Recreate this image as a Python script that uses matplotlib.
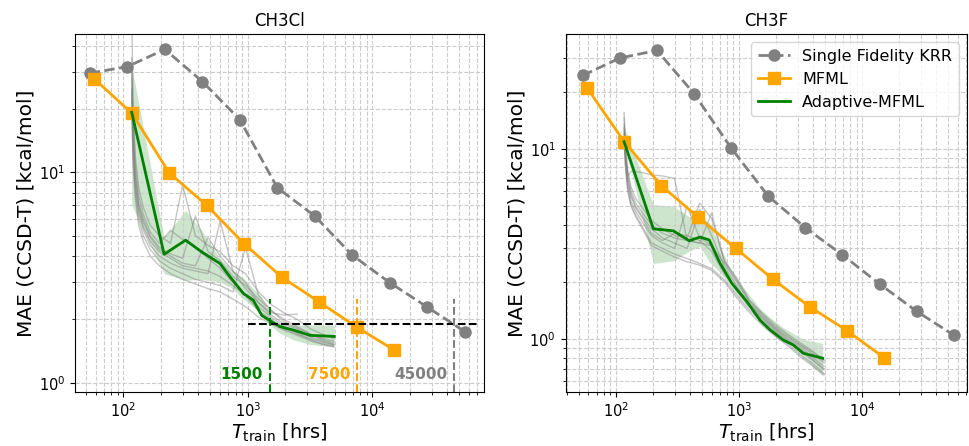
import matplotlib
matplotlib.use("Agg")
import matplotlib.pyplot as plt
import numpy as np

# training times [hrs]
t_sf = [54, 108, 216, 432, 864, 1728, 3456, 6912, 13824, 27648, 55296]
t_mfml = [58.6, 117.2, 234.4, 468.75, 937.5, 1875, 3750, 7500, 15000]

# --- CH3Cl ---
cl_sf = [29.6, 31.8, 38.4, 27.0, 17.8, 8.45, 6.2, 4.04, 2.99, 2.29, 1.75]
cl_mfml = [27.8, 19.1, 9.93, 6.97, 4.57, 3.18, 2.42, 1.84, 1.43]
cl_t_ad = [117, 213, 317, 426, 598, 720, 921, 1107, 1294, 1556, 1815, 2319, 3162, 4955]
cl_ad = [19.3, 4.08, 4.76, 4.19, 3.69, 3.19, 2.66, 2.47, 2.09, 1.95, 1.85, 1.78, 1.68, 1.66]
cl_ad_hi = [32, 4.9, 6.6, 5.3, 3.9, 3.5, 3.15, 2.8, 2.56, 2.0, 1.9, 1.88, 1.88, 1.88]
cl_ad_lo = [7, 3.3, 3.07, 3.1, 3.0, 2.86, 2.5, 2.3, 2.1, 1.85, 1.72, 1.6, 1.52, 1.48]

# individual adaptive runs (grey)
t_runs = [117, 120, 125, 133, 145, 165, 195, 240, 300, 380, 480, 600, 760, 960,
          1220, 1550, 1950, 2500, 3200, 4000, 4900]
cl_runs = [
    [60, 22, 12, 8.5, 6.8, 5.6, 5.0, 4.6, 8.7, 5.0, 4.5, 4.2, 3.6, 3.3, 2.7, 2.35, 2.15, 2.0, 1.8, 1.7, 1.62],
    [30, 16, 10, 7.2, 6.0, 5.0, 4.4, 4.1, 3.9, 6.2, 4.2, 3.8, 3.2, 2.9, 2.5, 2.2, 2.0, 1.85, 1.7, 1.62, 1.58],
    [25, 13, 8.5, 6.5, 5.3, 4.5, 4.0, 3.7, 3.5, 3.4, 3.3, 5.9, 3.4, 3.0, 2.4, 2.1, 1.9, 1.8, 1.65, 1.58, 1.52],
    [22, 12, 8.0, 6.0, 5.0, 4.3, 3.8, 3.5, 3.3, 3.1, 3.0, 2.9, 2.7, 4.4, 2.6, 2.2, 1.95, 1.82, 1.7, 1.6, 1.55],
    [35, 18, 11, 7.8, 6.3, 5.2, 4.6, 5.3, 4.8, 4.4, 3.9, 3.5, 3.0, 2.6, 2.3, 2.05, 1.85, 1.72, 1.6, 1.53, 1.5],
    [20, 11, 7.5, 5.6, 4.7, 4.0, 3.6, 3.3, 3.1, 2.95, 2.8, 2.7, 2.5, 2.3, 2.05, 1.9, 1.78, 1.68, 1.58, 1.52, 1.48],
    [28, 15, 9.5, 7.0, 5.8, 4.9, 4.3, 4.0, 3.7, 3.6, 4.9, 4.0, 3.4, 2.8, 2.4, 2.15, 2.1, 2.12, np.nan, np.nan, np.nan],
    [24, 14, 9.0, 6.8, 5.5, 4.7, 4.2, 3.9, 3.6, 3.5, 3.4, 3.2, 2.9, 2.6, 2.2, 2.0, 1.8, 1.7, 1.62, 1.56, 1.52],
]

# --- CH3F ---
f_sf = [24.3, 30.0, 32.9, 19.5, 10.1, 5.64, 3.85, 2.77, 1.95, 1.40, 1.05]
f_mfml = [20.9, 10.9, 6.41, 4.36, 3.01, 2.07, 1.48, 1.11, 0.80]
f_t_ad = [117, 202, 293, 395, 483, 574, 701, 873, 1154, 1479, 1783, 2287, 2755, 3319, 4775]
f_ad = [10.9, 3.80, 3.71, 3.29, 3.44, 3.32, 2.51, 1.97, 1.58, 1.26, 1.12, 0.99, 0.933, 0.844, 0.794]
f_ad_hi = [13.1, 5.1, 5.0, 4.4, 4.35, 4.1, 3.1, 2.25, 1.78, 1.45, 1.3, 1.15, 1.07, 1.0, 0.95]
f_ad_lo = [10.9, 2.5, 2.58, 2.9, 3.07, 2.55, 2.25, 1.85, 1.5, 1.3, 1.12, 1.02, 0.9, 0.8, 0.64]
f_runs = [
    [15.5, 10.5, 7.8, 6.3, 5.5, 4.9, 4.2, 3.8, 3.5, 3.4, 5.2, 4.3, 2.6, 2.05, 1.58, 1.35, 1.17, 1.04, 0.93, 0.85, 0.77],
    [13.5, 9.5, 7.2, 7.6, 7.6, 7.5, 7.3, 7.2, 7.0, 3.3, 3.2, 3.1, 2.5, 2.0, 1.55, 1.32, 1.15, 1.02, 0.92, 0.83, 0.75],
    [12.5, 9.0, 6.8, 5.6, 5.0, 4.4, 3.8, 3.4, 3.2, 3.0, 4.8, 3.5, 2.4, 1.9, 1.5, 1.28, 1.12, 0.98, 0.88, 0.78, 0.7],
    [11.5, 8.2, 6.2, 5.1, 4.5, 3.9, 3.2, 3.0, 2.8, 2.65, 2.5, 2.35, 2.05, 1.7, 1.42, 1.22, 1.06, 0.94, 0.82, 0.74, 0.66],
    [14.5, 10.0, 7.5, 6.0, 5.2, 4.6, 4.0, 3.6, 3.4, 3.3, 3.2, 4.6, 2.55, 2.1, 1.6, 1.37, 1.2, 1.06, 0.95, 0.86, 0.78],
    [11.0, 8.0, 6.0, 5.0, 4.4, 3.8, 3.1, 2.9, 2.7, 2.55, 2.45, 2.3, 2.0, 1.65, 1.38, 1.18, 1.04, 0.92, 0.8, 0.72, 0.65],
    [12.0, 8.6, 6.5, 5.3, 4.7, 4.1, 3.5, 3.2, 3.0, 5.0, 3.4, 3.1, 2.3, 1.8, 1.48, 1.25, 1.1, 0.97, 0.86, 0.77, 0.69],
    [13.0, 9.2, 7.0, 5.8, 4.9, 4.3, 3.6, 3.3, 3.6, 3.5, 3.3, 2.9, 2.2, 1.85, 1.52, 1.3, 1.14, 1.0, 0.9, 0.8, 0.72],
]

# cost to reach the target MAE (CH3Cl)
target_mae = 1.9
cost_labels = [1500, 7500, 45000]
cost_colors = ["green", "orange", "gray"]

fig = plt.figure(figsize=(9.69, 4.46), dpi=100)
ax1 = fig.add_axes([0.0774, 0.1211, 0.4221, 0.8016])
ax2 = fig.add_axes([0.5838, 0.1211, 0.4138, 0.8016])


def draw(ax, sf, mfml, t_ad, ad, lo, hi, runs):
    for r in runs:
        ax.plot(t_runs, r, color="gray", alpha=0.45, lw=1)
    ax.fill_between(t_ad, lo, hi, color="green", alpha=0.2, lw=0)
    ax.plot(t_sf, sf, "--o", color="gray", lw=2, ms=8, label="Single Fidelity KRR")
    ax.plot(t_mfml, mfml, "-s", color="orange", lw=2, ms=8, label="MFML")
    ax.plot(t_ad, ad, color="green", lw=2, label="Adaptive-MFML")
    ax.set_xscale("log")
    ax.set_yscale("log")
    ax.grid(True, which="both", ls="--", color="#cccccc", lw=0.8)
    ax.set_xlabel(r"$T_{\rm train}$ [hrs]", fontsize=14, labelpad=1)
    ax.set_ylabel("MAE (CCSD-T) [kcal/mol]", fontsize=14.5, labelpad=2)
    ax.tick_params(labelsize=10.5)


draw(ax1, cl_sf, cl_mfml, cl_t_ad, cl_ad, cl_ad_lo, cl_ad_hi, cl_runs)
draw(ax2, f_sf, f_mfml, f_t_ad, f_ad, f_ad_lo, f_ad_hi, f_runs)

ax1.set_xlim(41, 79000)
ax1.set_ylim(0.904, 45.2)
ax2.set_xlim(39.3, 70300)
ax2.set_ylim(0.528, 39.9)

ax1.hlines(target_mae, 1000, 70000, colors="black", linestyles="--", lw=1.5)
for c, col in zip(cost_labels, cost_colors):
    ax1.vlines(c, 0.904, 2.5, colors=col, linestyles="--", lw=1.5)
    ax1.text(c * 0.885, 1.04, str(c), color=col, fontsize=11, fontweight="bold",
             ha="right", va="baseline")

ax1.set_title("CH3Cl", fontsize=12)
ax2.set_title("CH3F", fontsize=12)
ax2.legend(loc="upper right", fontsize=11.5)

fig.savefig("out.png", dpi=100)
